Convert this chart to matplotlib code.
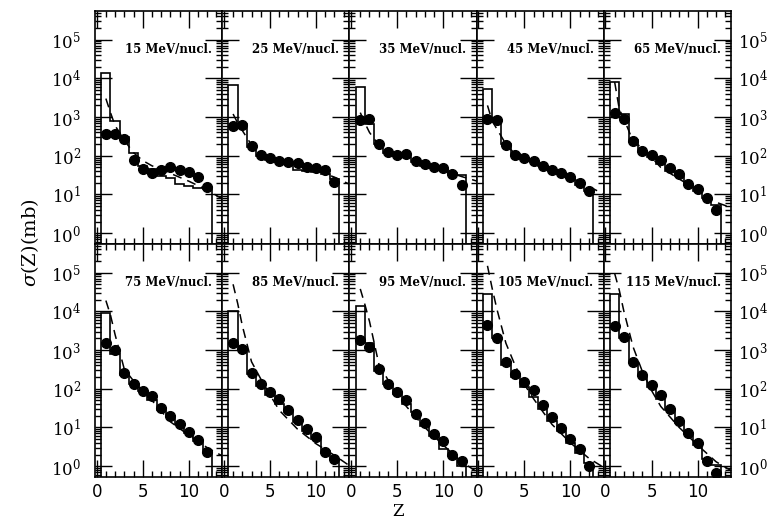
import numpy as np
import matplotlib.pyplot as plt
from matplotlib import ticker

plt.rcParams['font.family'] = 'DejaVu Serif'
plt.rcParams['mathtext.fontset'] = 'dejavuserif'

# beam energies (MeV/nucl.), one panel each
energies = [15, 25, 35, 45, 65, 75, 85, 95, 105, 115]

# charge of the fragments
Z = np.arange(1, 13)

# measured cross sections (mb), Z = 1..12
data_15 = [370, 360, 275, 78, 45, 36, 44, 51, 44, 37, 29, 16]
data_25 = [570, 630, 182, 107, 85, 75, 69, 65, 51, 48, 44, 21]
data_35 = [850, 910, 205, 125, 102, 110, 75, 61, 51, 48, 34, 18]
data_45 = [910, 815, 185, 107, 85, 75, 56, 44, 35, 28, 20, 12.6]
data_65 = [1300, 910, 235, 135, 102, 79, 47, 33, 19, 14, 8.1, 3.9]
data_75 = [1560, 1000, 250, 135, 88, 65, 32, 20, 12, 7.7, 4.7, 2.3]
data_85 = [1560, 1050, 260, 130, 84, 55, 28, 16, 8.9, 5.6, 2.3, 1.5]
data_95 = [1830, 1200, 320, 135, 84, 50, 22.5, 12.8, 6.6, 4.4, 2.0, 1.35]
data_105 = [4400, 2100, 490, 245, 152, 91, 37, 18.6, 9.8, 5.1, 2.7, 1.04]
data_115 = [4100, 2200, 490, 225, 123, 68, 29.5, 14.7, 7.3, 3.9, 1.35, 0.65]

# model histogram (mb), Z = 1..12
hist_15 = [14000, 800, 300, 120, 55, 45, 30, 27, 19, 17, 15, 14]
hist_25 = [6800, 650, 170, 100, 80, 70, 60, 42, 40, 38, 33, 25]
hist_35 = [5900, 650, 200, 120, 100, 95, 70, 55, 48, 42, 35, 31]
hist_45 = [5400, 750, 200, 110, 85, 72, 55, 42, 33, 26, 18, 12]
hist_65 = [7900, 1200, 250, 130, 95, 60, 40, 30, 18, 12, 8, 5.3]
hist_75 = [9300, 780, 230, 130, 85, 50, 28, 20, 12, 7, 4.5, 2.5]
hist_85 = [10400, 1200, 240, 120, 70, 40, 25, 14, 8, 5, 2.5, 1.5]
hist_95 = [14000, 1500, 280, 130, 75, 40, 25, 11, 6, 2.8, 1.8, 1.0]
hist_105 = [28000, 2000, 400, 200, 110, 60, 30, 15, 8, 4, 2.2, 1.2]
hist_115 = [28000, 2000, 500, 220, 110, 55, 28, 13, 7, 3.5, 1.5, 1.1]

# dashed curve, read at these Z
Z_dash = [1, 1.5, 2, 3, 4, 5, 6, 8, 10, 12, 13.7]
dash_15 = [3000, 1300, 600, 250, 120, 75, 55, 35, 22, 13, 7.5]
dash_25 = [1200, 700, 450, 190, 120, 95, 80, 58, 42, 28, 18]
dash_35 = [1300, 700, 400, 190, 130, 100, 85, 60, 42, 29, 22]
dash_45 = [2000, 800, 500, 200, 110, 85, 70, 45, 28, 16, 10]
dash_65 = [8000, 1600, 900, 235, 160, 90, 50, 25, 13, 6.3, 4.5]
dash_75 = [19000, 8000, 2500, 320, 160, 90, 50, 14, 6.3, 3.0, 1.8]
dash_85 = [50000, 16000, 4300, 500, 180, 70, 28, 9, 3.8, 1.9, 1.0]
dash_95 = [38000, 15000, 5500, 450, 170, 70, 35, 10, 3.5, 1.3, 0.7]
dash_105 = [150000, 40000, 12000, 1500, 400, 130, 55, 12, 4, 1.6, 0.9]
dash_115 = [95000, 35000, 10000, 1200, 280, 90, 35, 10, 3.5, 1.3, 0.75]

data = [data_15, data_25, data_35, data_45, data_65,
        data_75, data_85, data_95, data_105, data_115]
hists = [hist_15, hist_25, hist_35, hist_45, hist_65,
         hist_75, hist_85, hist_95, hist_105, hist_115]
dashes = [dash_15, dash_25, dash_35, dash_45, dash_65,
          dash_75, dash_85, dash_95, dash_105, dash_115]

fig, axes = plt.subplots(2, 5, figsize=(7.67, 5.23), dpi=100,
                         sharex=True, sharey=True)
fig.subplots_adjust(left=95/767, right=731/767, top=1-11/523,
                    bottom=1-477/523, wspace=0, hspace=0)

edges = np.arange(0.5, 13.0, 1.0)

for i, ax in enumerate(axes.flat):
    ax.set_yscale('log')
    ax.stairs(hists[i], edges, baseline=1e-3, color='k', lw=1.2)
    ax.plot(Z_dash, dashes[i], color='k', lw=1.1, dashes=(6, 4))
    ax.plot(Z, data[i], 'o', color='k', ms=7)
    ax.text(0.92, 0.835, '%d MeV/nucl.' % energies[i], transform=ax.transAxes,
            ha='right', va='center', fontsize=8.5, fontweight='bold')

    ax.set_xlim(-0.18, 13.62)
    ax.set_ylim(10**-0.28, 10**5.74)
    ax.xaxis.set_major_locator(ticker.FixedLocator([0, 5, 10]))
    ax.xaxis.set_minor_locator(ticker.MultipleLocator(1))
    ax.yaxis.set_major_locator(ticker.FixedLocator([1, 1e1, 1e2, 1e3, 1e4, 1e5]))
    ax.yaxis.set_minor_locator(ticker.LogLocator(base=10, subs=np.arange(2, 10), numticks=100))
    ax.yaxis.set_minor_formatter(ticker.NullFormatter())
    ax.yaxis.set_major_formatter(ticker.LogFormatterSciNotation())
    ax.xaxis.set_major_formatter(ticker.FormatStrFormatter('%d'))
    ax.tick_params(which='both', direction='in', top=True, right=True,
                   labelleft=False, labelbottom=False, width=1)
    ax.tick_params(which='major', length=12, labelsize=12)
    ax.tick_params(which='minor', length=4)
    ax.tick_params(axis='x', which='major', pad=4)
    for s in ax.spines.values():
        s.set_linewidth(1.2)

    row, col = divmod(i, 5)
    if col == 0:
        ax.tick_params(axis='y', labelleft=True, pad=10)
    if col == 4:
        ax.tick_params(axis='y', labelright=True, pad=5)
    if row == 1:
        ax.tick_params(labelbottom=True)
        for lab in ax.get_xticklabels():
            lab.set_family('DejaVu Sans')

fig.text(30/767, 1-243/523, r'$\sigma$(Z)(mb)', rotation=90,
         ha='center', va='center', fontsize=14)
fig.text(398/767, 1-511/523, 'Z', ha='center', va='center', fontsize=12)

fig.savefig('out.png', dpi=100)
